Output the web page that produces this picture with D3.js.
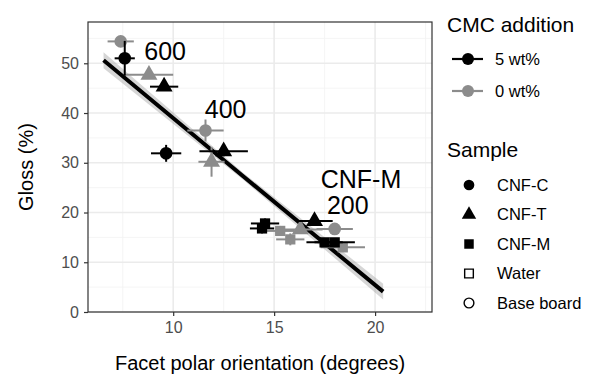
<!DOCTYPE html>
<html>
<head>
<meta charset="utf-8">
<script src="https://cdn.jsdelivr.net/npm/d3@7"></script>
<style>
  body { margin: 0; background: #fff; }
  svg { font-family: "Liberation Sans", Arial, sans-serif; }
</style>
</head>
<body>
<svg id="chart" width="589" height="378"></svg>
<script>
// Measured points (one entry per sample / CMC level)
const sample    = ["CNF-C", "CNF-C", "CNF-T", "CNF-T", "CNF-C", "CNF-C", "CNF-T", "CNF-T",
                   "CNF-M", "CNF-M", "CNF-M", "CNF-M", "CNF-T", "CNF-C", "CNF-M", "CNF-M", "CNF-M", "CNF-T"];
const cmc       = ["0 wt%", "5 wt%", "0 wt%", "5 wt%", "0 wt%", "5 wt%", "5 wt%", "0 wt%",
                   "5 wt%", "5 wt%", "0 wt%", "0 wt%", "0 wt%", "0 wt%", "5 wt%", "5 wt%", "0 wt%", "5 wt%"];
const orient    = [7.4, 7.6, 8.8, 9.55, 11.6, 9.65, 12.5, 11.9,
                   14.55, 14.4, 15.3, 15.8, 16.3, 18.0, 17.5, 18.0, 18.4, 17.0];
const orientErr = [0.65, 0.5, 1.2, 0.7, 0.9, 0.75, 1.2, 0.65,
                   0.7, 0.6, 0.7, 0.7, 1.1, 0.9, 0.9, 1.0, 1.1, 0.9];
const gloss     = [54.4, 51.0, 47.7, 45.3, 36.5, 31.9, 32.3, 30.2,
                   17.8, 16.8, 16.3, 14.6, 16.6, 16.7, 14.0, 14.0, 13.0, 18.3];
const glossErr  = [0.8, 3.5, 0.8, 0.8, 2.2, 1.7, 1.0, 3.0,
                   1.0, 1.0, 1.0, 1.2, 0.8, 0.8, 0.6, 0.6, 0.8, 1.0];

// Linear fit
const fitX  = [6.55, 13.45, 20.4];
const fitY  = [50.6, 27.35, 4.1];
const fitSe = [1.6, 0.7, 1.6];

// Annotations
const noteText = ["600", "400", "CNF-M", "200"];
const noteX    = [9.6, 12.6, 19.3, 18.65];
const noteY    = [50.6, 39.0, 25.0, 19.8];

const xTicks = [10, 15, 20];
const yTicks = [0, 10, 20, 30, 40, 50];
const cmcLevels = ["5 wt%", "0 wt%"];
const sampleLevels = ["CNF-C", "CNF-T", "CNF-M", "Water", "Base board"];

const colour = d3.scaleOrdinal().domain(cmcLevels).range(["#000000", "#8c8c8c"]);
const shapes = {
  "CNF-C": {type: d3.symbolCircle, fill: true},
  "CNF-T": {type: d3.symbolTriangle, fill: true},
  "CNF-M": {type: d3.symbolSquare, fill: true},
  "Water": {type: d3.symbolSquare, fill: false},
  "Base board": {type: d3.symbolCircle, fill: false}
};

const svg = d3.select("#chart");
const panel = {left: 88, right: 432, top: 22, bottom: 312};

const x = d3.scaleLinear().domain([5.78, 22.82]).range([panel.left, panel.right]);
const y = d3.scaleLinear().domain([0, 58.3]).range([panel.bottom, panel.top]);

// grid
const grid = svg.append("g");
const xMinor = [7.5, 12.5, 17.5, 22.5];
const yMinor = [5, 15, 25, 35, 45, 55];
grid.selectAll(".vx").data(xMinor).enter().append("line")
  .attr("x1", d => x(d)).attr("x2", d => x(d))
  .attr("y1", panel.top).attr("y2", panel.bottom)
  .attr("stroke", "#f2f2f2").attr("stroke-width", 0.8);
grid.selectAll(".hy").data(yMinor).enter().append("line")
  .attr("y1", d => y(d)).attr("y2", d => y(d))
  .attr("x1", panel.left).attr("x2", panel.right)
  .attr("stroke", "#f2f2f2").attr("stroke-width", 0.8);
grid.selectAll(".gx").data(xTicks).enter().append("line")
  .attr("x1", d => x(d)).attr("x2", d => x(d))
  .attr("y1", panel.top).attr("y2", panel.bottom)
  .attr("stroke", "#ebebeb").attr("stroke-width", 1.6);
grid.selectAll(".gy").data(yTicks).enter().append("line")
  .attr("y1", d => y(d)).attr("y2", d => y(d))
  .attr("x1", panel.left).attr("x2", panel.right)
  .attr("stroke", "#ebebeb").attr("stroke-width", 1.6);

// fit band and line
const fit = fitX.map((d, i) => ({x: d, y: fitY[i], se: fitSe[i]}));
svg.append("path").datum(fit)
  .attr("d", d3.area().x(d => x(d.x)).y0(d => y(d.y - d.se)).y1(d => y(d.y + d.se)))
  .attr("fill", "#999").attr("opacity", 0.4);
svg.append("path").datum(fit)
  .attr("d", d3.line().x(d => x(d.x)).y(d => y(d.y)))
  .attr("fill", "none").attr("stroke", "#000").attr("stroke-width", 4);

// points with error bars
const pts = sample.map((s, i) => ({
  sample: s, cmc: cmc[i], x: orient[i], xe: orientErr[i], y: gloss[i], ye: glossErr[i]
}));
const order = pts.slice().sort((a, b) => (a.cmc === "0 wt%" ? 0 : 1) - (b.cmc === "0 wt%" ? 0 : 1));

const pg = svg.append("g").selectAll("g").data(order).enter().append("g");
pg.append("line")
  .attr("x1", d => x(d.x - d.xe)).attr("x2", d => x(d.x + d.xe))
  .attr("y1", d => y(d.y)).attr("y2", d => y(d.y))
  .attr("stroke", d => colour(d.cmc)).attr("stroke-width", 2);
pg.append("line")
  .attr("x1", d => x(d.x)).attr("x2", d => x(d.x))
  .attr("y1", d => y(d.y - d.ye)).attr("y2", d => y(d.y + d.ye))
  .attr("stroke", d => colour(d.cmc)).attr("stroke-width", 2);
pg.append("path")
  .attr("transform", d => `translate(${x(d.x)},${y(d.y)})`)
  .attr("d", d => d3.symbol().type(shapes[d.sample].type).size(d.sample === "CNF-M" ? 105 : 125)())
  .attr("fill", d => colour(d.cmc));

// annotations
svg.append("g").selectAll("text").data(noteText).enter().append("text")
  .attr("x", (d, i) => x(noteX[i])).attr("y", (d, i) => y(noteY[i]))
  .attr("text-anchor", "middle").attr("font-size", 25).attr("fill", "#000")
  .text(d => d);

// panel border
svg.append("rect")
  .attr("x", panel.left).attr("y", panel.top)
  .attr("width", panel.right - panel.left).attr("height", panel.bottom - panel.top)
  .attr("fill", "none").attr("stroke", "#333").attr("stroke-width", 1.2);

// axes
const xAxis = svg.append("g").attr("transform", `translate(0,${panel.bottom})`)
  .call(d3.axisBottom(x).tickValues(xTicks).tickSize(4).tickPadding(6));
const yAxis = svg.append("g").attr("transform", `translate(${panel.left},0)`)
  .call(d3.axisLeft(y).tickValues(yTicks).tickSize(4).tickPadding(5));
[xAxis, yAxis].forEach(a => {
  a.select(".domain").remove();
  a.selectAll(".tick line").attr("stroke", "#333").attr("stroke-width", 1.2);
  a.selectAll(".tick text").attr("fill", "#4d4d4d").attr("font-size", 16)
    .attr("font-family", "Liberation Sans, Arial, sans-serif");
});

svg.append("text")
  .attr("x", (panel.left + panel.right) / 2).attr("y", 370)
  .attr("text-anchor", "middle").attr("font-size", 20)
  .text("Facet polar orientation (degrees)");
svg.append("text")
  .attr("transform", `translate(33,${(panel.top + panel.bottom) / 2}) rotate(-90)`)
  .attr("text-anchor", "middle").attr("font-size", 20)
  .text("Gloss (%)");

// legends
const leg = svg.append("g");
leg.append("text").attr("x", 447).attr("y", 32).attr("font-size", 21).text("CMC addition");
const cmcRows = leg.selectAll(".cmc").data(cmcLevels).enter().append("g")
  .attr("transform", (d, i) => `translate(468,${59 + i * 32})`);
cmcRows.append("line").attr("x1", -16).attr("x2", 15)
  .attr("stroke", d => colour(d)).attr("stroke-width", 2.2);
cmcRows.append("circle").attr("r", 6).attr("fill", d => colour(d));
cmcRows.append("text").attr("x", 27).attr("dy", "0.35em").attr("font-size", 16.5).text(d => d);

leg.append("text").attr("x", 447).attr("y", 157).attr("font-size", 21).text("Sample");
const sRows = leg.selectAll(".smp").data(sampleLevels).enter().append("g")
  .attr("transform", (d, i) => `translate(469,${185 + i * 29.5})`);
sRows.append("path")
  .attr("d", d => d3.symbol().type(shapes[d].type).size(shapes[d].fill ? 90 : 75)())
  .attr("fill", d => shapes[d].fill ? "#000" : "none")
  .attr("stroke", d => shapes[d].fill ? "none" : "#000").attr("stroke-width", 1.4);
sRows.append("text").attr("x", 28).attr("dy", "0.35em").attr("font-size", 16.5).text(d => d);
</script>
</body>
</html>
